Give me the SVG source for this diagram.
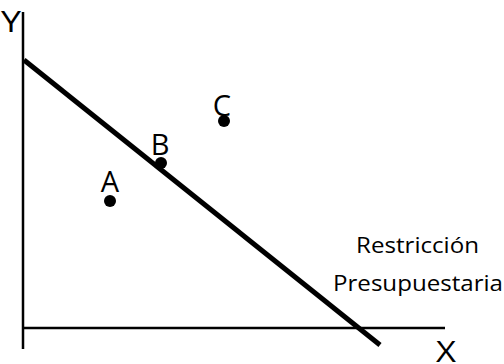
<svg xmlns="http://www.w3.org/2000/svg" width="504" height="364" viewBox="0 0 504 364">
<style>
.ax{stroke:#000;stroke-width:2.5;fill:none}
.bl{stroke:#000;stroke-width:5;fill:none}
.t{font-family:"Open Sans","Liberation Sans",sans-serif;fill:#000}
.pt{fill:#000}
</style>
<rect width="504" height="364" fill="#fff"/>
<g id="axes">
<line class="ax" x1="23" y1="12" x2="23" y2="349"/>
<line class="ax" x1="22" y1="328" x2="445" y2="328"/>
<text class="t" x="1" y="32" font-size="30" textLength="20" lengthAdjust="spacingAndGlyphs">Y</text>
<text class="t" x="436" y="362" font-size="29" textLength="20" lengthAdjust="spacingAndGlyphs">X</text>
</g>
<g id="connectors">
<line class="bl" x1="24" y1="60" x2="380" y2="345"/>
</g>
<g id="A"><circle class="pt" cx="110" cy="201" r="6"/><text class="t" x="110" y="192" font-size="29" text-anchor="middle">A</text></g>
<g id="B"><circle class="pt" cx="161" cy="163" r="6"/><text class="t" x="160" y="155" font-size="29" text-anchor="middle">B</text></g>
<g id="C"><circle class="pt" cx="224" cy="121" r="6"/><text class="t" x="222" y="116" font-size="29" text-anchor="middle">C</text></g>
<g id="label">
<text class="t" x="356" y="253" font-size="22" textLength="123" lengthAdjust="spacingAndGlyphs">Restricción</text>
<text class="t" x="333" y="291" font-size="22" textLength="170" lengthAdjust="spacingAndGlyphs">Presupuestaria</text>
</g>
</svg>
